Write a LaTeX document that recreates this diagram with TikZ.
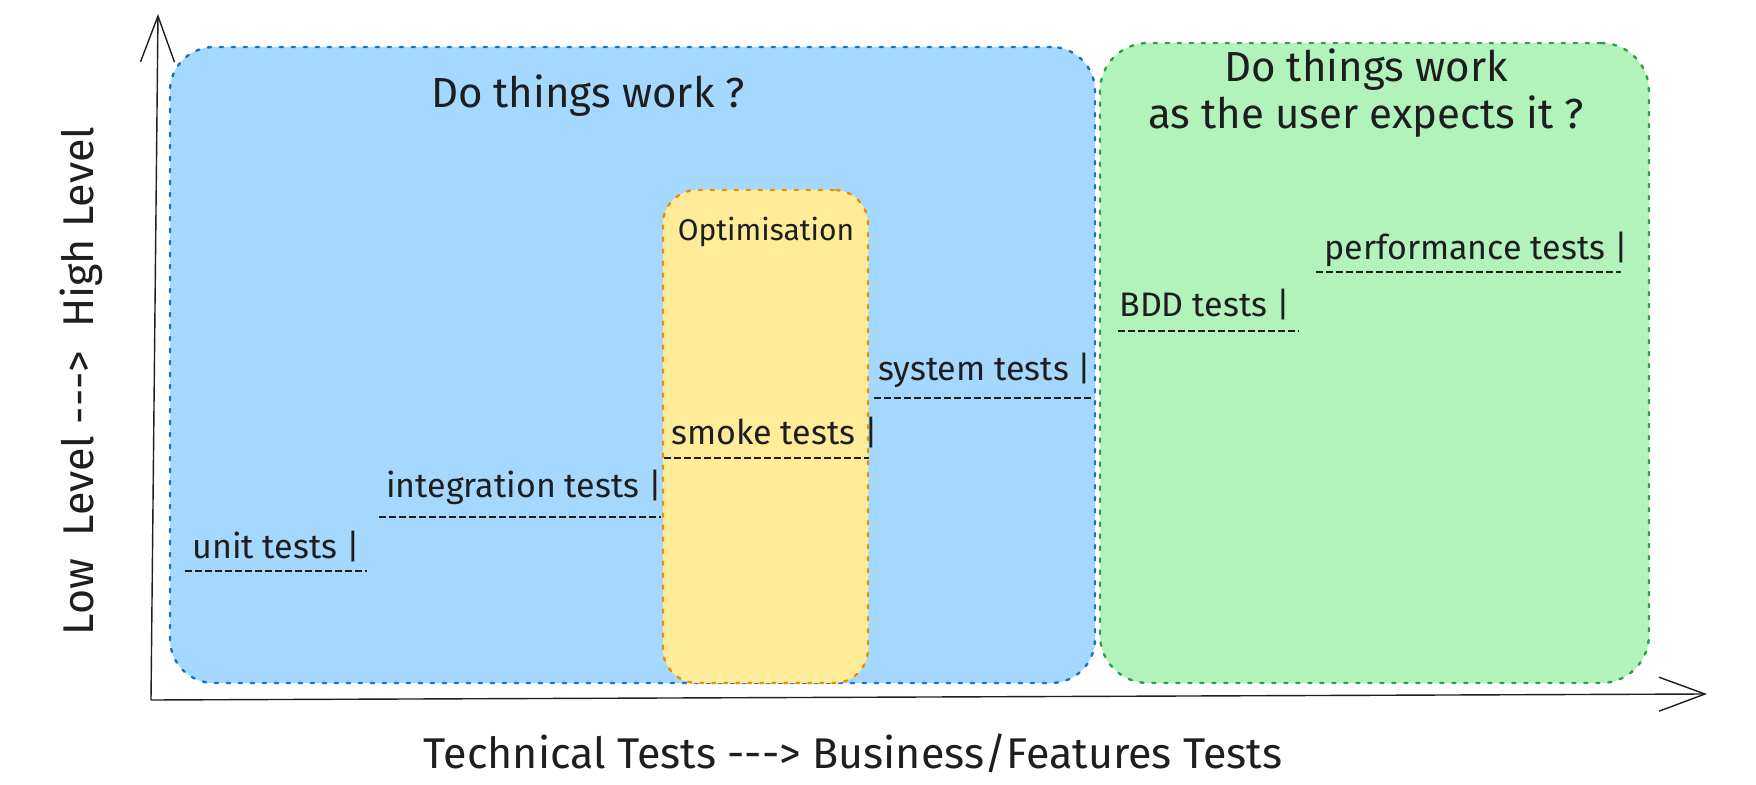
\documentclass[tikz,border=0pt]{standalone}
\usepackage{fontspec}
\setmainfont{Fira Sans}
\usetikzlibrary{arrows.meta}
\definecolor{ink}{HTML}{1E1E1E}
\definecolor{bluefill}{HTML}{A5D8FF}
\definecolor{blueline}{HTML}{1971C2}
\definecolor{greenfill}{HTML}{B2F2BB}
\definecolor{greenline}{HTML}{2F9E44}
\definecolor{yellowfill}{HTML}{FFEC99}
\definecolor{yellowline}{HTML}{F08C00}
\tikzset{
  zone/.style={rectangle, inner sep=0pt, outer sep=0pt, line width=1.2pt,
    dash pattern=on 1.6pt off 4.4pt, line cap=round},
  bluebox/.style={zone, draw=blueline, fill=bluefill, rounded corners=22pt},
  greenbox/.style={zone, draw=greenline, fill=greenfill, rounded corners=24pt},
  yellowbox/.style={zone, draw=yellowline, fill=yellowfill, rounded corners=17pt},
  head/.style={text=ink, font=\fontsize{21}{23.5}\selectfont, align=center, inner sep=0pt},
  lbl/.style={text=ink, font=\fontsize{17}{20}\selectfont, inner sep=0pt, anchor=west},
  axlbl/.style={text=ink, font=\fontsize{21.5}{24}\selectfont, inner sep=0pt},
  under/.style={draw=ink, line width=1.4pt, dash pattern=on 3.6pt off 1.4pt},
  axis/.style={draw=ink, line width=0.7pt, -{Straight Barb[length=23pt,width=17pt,line width=0.7pt]}}
}
\begin{document}
\begin{tikzpicture}[x=0.5pt,y=-0.5pt]
\useasboundingbox (0,0) rectangle (1756,785);
\fill[white] (0,0) rectangle (1756,785);

% zones
\node[bluebox, minimum width=462.5pt, minimum height=318pt] (blue) at (632.5,365) {};
\node[greenbox, minimum width=274.5pt, minimum height=320pt] (green) at (1374.5,363) {};
\node[yellowbox, minimum width=102.5pt, minimum height=246.5pt] (yellow) at (765.5,436.5) {};

% axes
\coordinate (origin) at (151,700);
\coordinate (ytip) at (158,14);
\coordinate (xstart) at (151,700);
\coordinate (xtip) at (1707,694);
\draw[axis] (origin) -- (ytip);
\draw[axis] (xstart) -- (xtip);

% headings
\node[head] (q1) at (588,96) {Do things work ?};
\node[head] (q2) at (1366,93) {Do things work\\as the user expects it ?};
\node[head, font=\fontsize{15}{18}\selectfont] (opt) at (766,232) {Optimisation};

% labels
\node[lbl] (unit) at (192,547) {unit tests |};
\node[lbl] (integ) at (386,487) {integration tests |};
\node[lbl] (smoke) at (671,433) {smoke tests |};
\node[lbl] (system) at (878,370) {system tests |};
\node[lbl] (bdd) at (1119,305) {BDD tests |};
\node[lbl] (perf) at (1324,249) {performance tests |};

% underlines
\coordinate (u1a) at (185,571); \coordinate (u1b) at (367,571);
\coordinate (u2a) at (379,517); \coordinate (u2b) at (661,517);
\coordinate (u3a) at (664,458); \coordinate (u3b) at (869,458);
\coordinate (u4a) at (874,398); \coordinate (u4b) at (1093,398);
\coordinate (u5a) at (1118,331); \coordinate (u5b) at (1299,331);
\coordinate (u6a) at (1316,272); \coordinate (u6b) at (1621,272);
\draw[under] (u1a) -- (u1b);
\draw[under] (u2a) -- (u2b);
\draw[under] (u3a) -- (u3b);
\draw[under] (u4a) -- (u4b);
\draw[under] (u5a) -- (u5b);
\draw[under] (u6a) -- (u6b);

% axis labels
\node[axlbl, rotate=90] (ylab) at (81,381) {Low\ \ Level -{}-{}-> \ High Level};
\node[axlbl] (xlab) at (853,753) {Technical Tests -{}-{}-> Business/Features Tests};
\end{tikzpicture}
\end{document}
